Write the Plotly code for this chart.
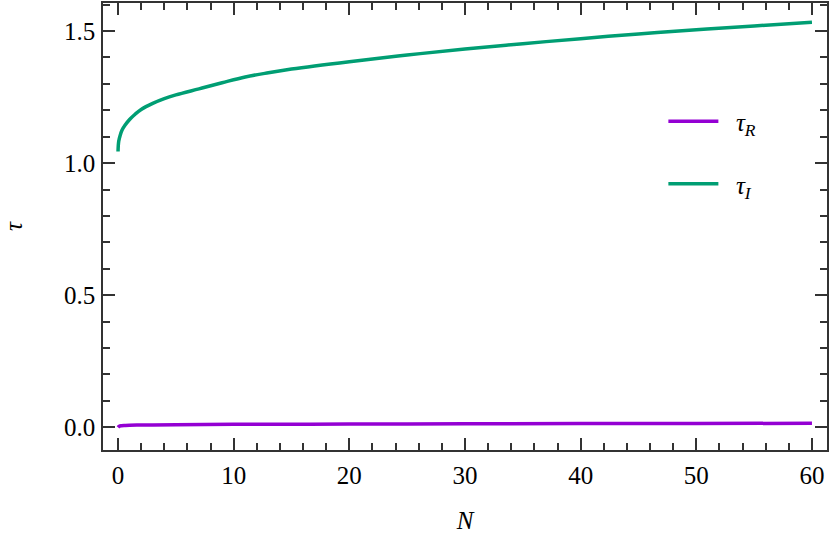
import plotly.graph_objects as go

# Data
N_I = [0, 0.02, 0.06, 0.17, 0.35, 0.6, 1, 1.5, 2, 3, 4, 5, 7, 9, 11, 13, 15, 20, 25, 30, 35, 40, 45, 50, 55, 60]
tau_I = [1.044, 1.065, 1.083, 1.103, 1.125, 1.143, 1.165, 1.186, 1.203, 1.226, 1.244, 1.258, 1.281, 1.304, 1.326, 1.342, 1.356, 1.384, 1.409, 1.432, 1.452, 1.471, 1.489, 1.505, 1.519, 1.533]

N_R = [0, 0.1, 0.3, 0.6, 1, 2, 3, 5, 10, 20, 30, 40, 50, 60]
tau_R = [0.0, 0.004, 0.006, 0.007, 0.008, 0.0085, 0.009, 0.0095, 0.011, 0.012, 0.013, 0.014, 0.0145, 0.015]

x_ticks = [0, 10, 20, 30, 40, 50, 60]
y_ticks = [0.0, 0.5, 1.0, 1.5]

PURPLE = "#9400D3"
GREEN = "#009E73"
FONT = "Liberation Serif, Times New Roman, serif"
AX = "#333333"
FS = 25

fig = go.Figure()
fig.add_trace(go.Scatter(x=N_R, y=tau_R, mode="lines", line=dict(color=PURPLE, width=3.5, shape="spline"),
                         name="\u2002<i>τ</i><sub><i>R</i></sub>", showlegend=True))
fig.add_trace(go.Scatter(x=N_I, y=tau_I, mode="lines", line=dict(color=GREEN, width=3.5, shape="spline"),
                         name="\u2002<i>τ</i><sub><i>I</i></sub>", legend="legend2", showlegend=True))

fig.update_xaxes(
    showline=True, linecolor=AX, linewidth=1.5, mirror="allticks",
    ticks="inside", ticklen=12, tickwidth=1.5, tickcolor=AX,
    showgrid=False, zeroline=False,
    tickfont=dict(family=FONT, size=FS, color="black"),
    range=[-1.3, 61.3], tickvals=x_ticks, ticklabelstandoff=2,
    minor=dict(ticks="inside", ticklen=7, tickwidth=1.5, tickcolor=AX, dtick=2, showgrid=False),
    title=dict(text="<i>N</i>", font=dict(family=FONT, size=FS, color="black"), standoff=24),
)
fig.update_yaxes(
    showline=True, linecolor=AX, linewidth=1.5, mirror="allticks",
    ticks="inside", ticklen=12, tickwidth=1.5, tickcolor=AX,
    showgrid=False, zeroline=False,
    tickfont=dict(family=FONT, size=FS, color="black"),
    range=[-0.086, 1.606], tickvals=y_ticks, tickformat=".1f", ticklabelstandoff=1,
    minor=dict(ticks="inside", ticklen=7, tickwidth=1.5, tickcolor=AX, dtick=0.1, showgrid=False),
    title=dict(text="<i>τ</i>", font=dict(family=FONT, size=FS, color="black"), standoff=34),
)

fig.update_layout(
    width=830, height=554,
    font=dict(family=FONT, size=FS, color="black"),
    margin=dict(l=103, r=1, t=3, b=104),
    plot_bgcolor="white", paper_bgcolor="white",
    legend=dict(x=0.774, y=0.735, xanchor="left", yanchor="middle", bgcolor="rgba(0,0,0,0)", itemwidth=50,
                font=dict(family=FONT, size=FS, color="black")),
    legend2=dict(x=0.774, y=0.595, xanchor="left", yanchor="middle", bgcolor="rgba(0,0,0,0)", itemwidth=50,
                 font=dict(family=FONT, size=FS, color="black")),
)

fig.write_html("out.html", config={"displayModeBar": False},
               post_script="document.body.style.margin='0';document.body.style.padding='0';")
